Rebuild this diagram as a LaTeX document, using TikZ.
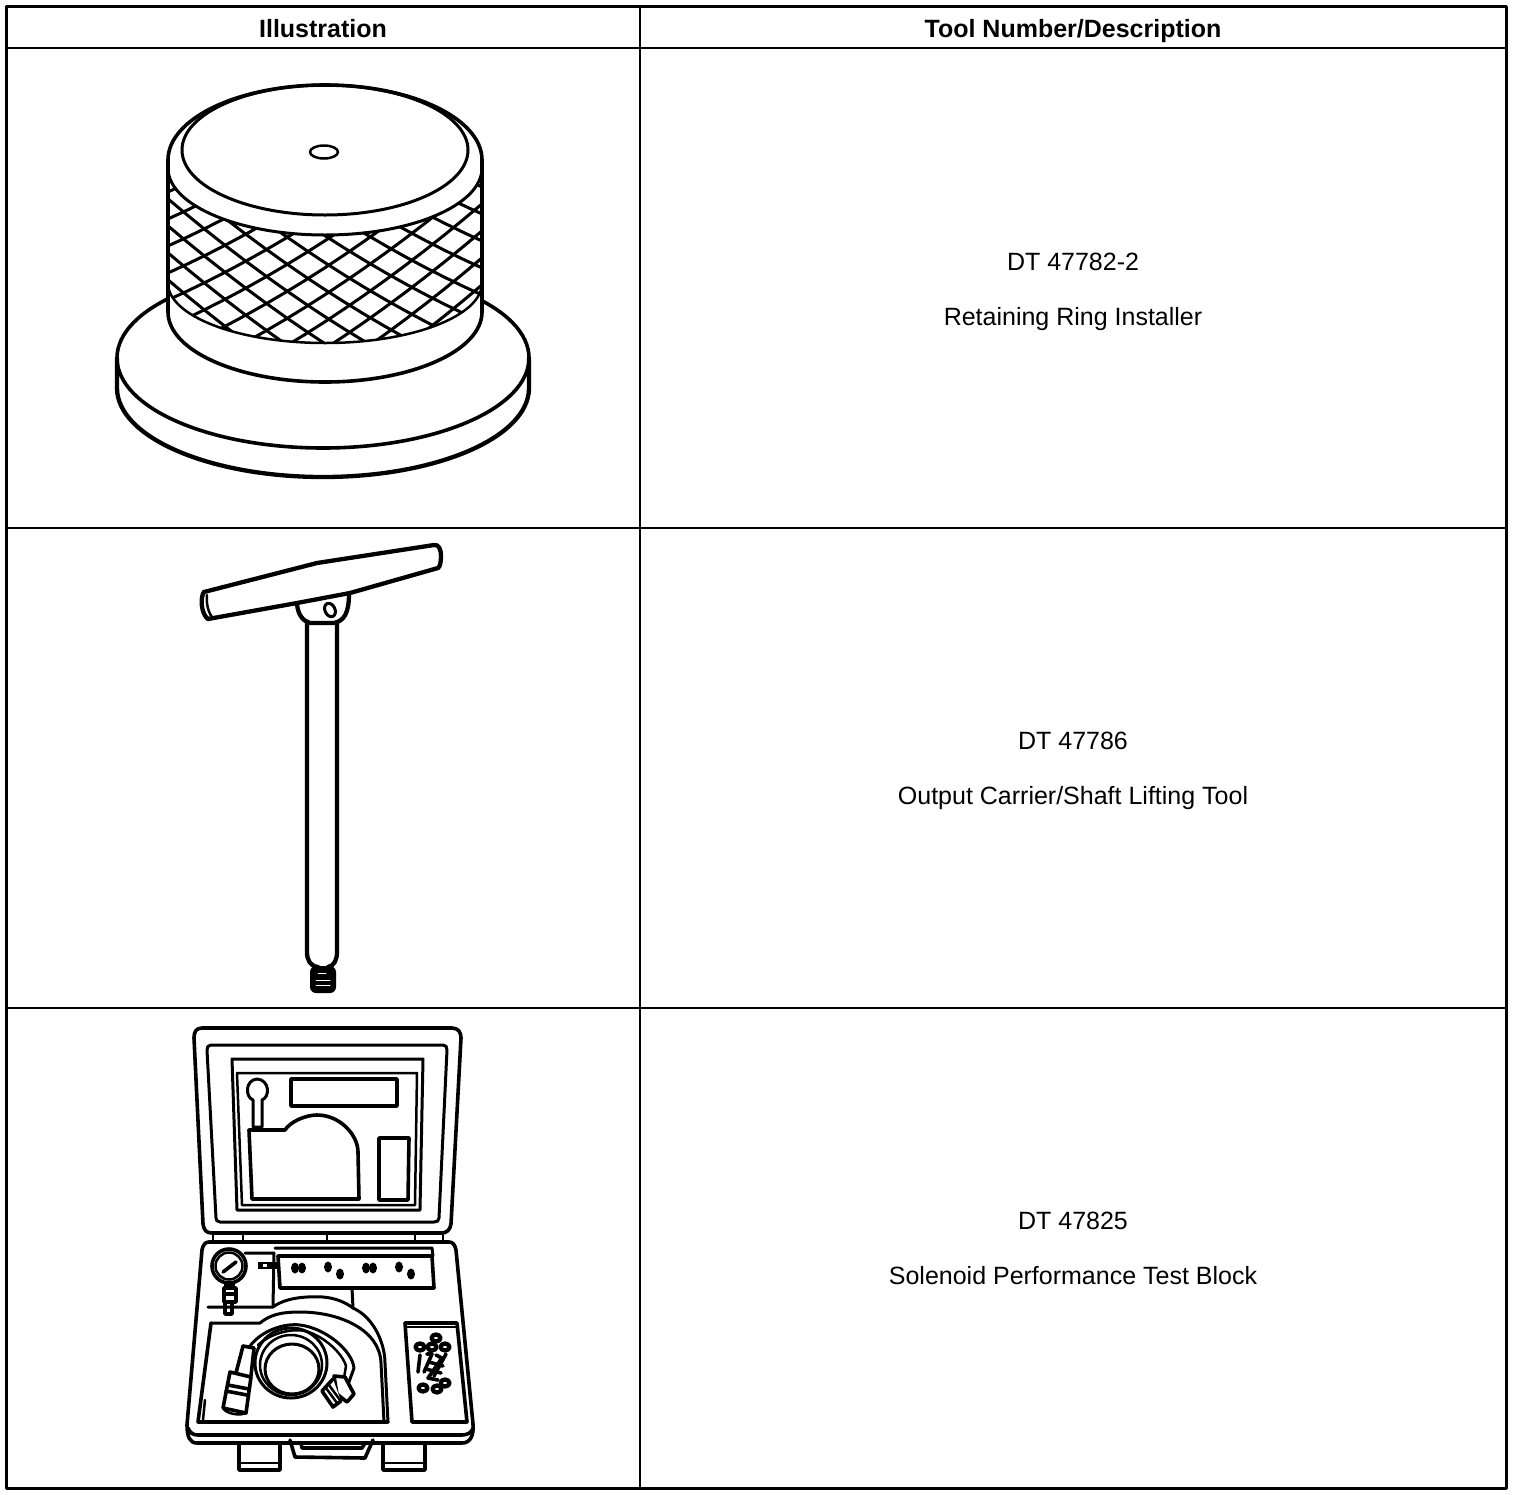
\documentclass[tikz,border=0pt]{standalone}
\usepackage{fontspec}
\setmainfont{Liberation Sans}
\begin{document}
\begin{tikzpicture}[x=1pt,y=-1pt,line join=round,line cap=round,
  grid/.style={line width=1.7pt,line cap=butt},
  frame/.style={line width=3pt,line cap=butt},
  heavy ink/.style={line width=4.3pt},
  ink/.style={line width=3.6pt},
  mid ink/.style={line width=3pt},
  thin ink/.style={line width=2.5pt},
  head/.style={font=\fontsize{25}{28}\selectfont\bfseries,inner sep=0pt,anchor=base},
  cell/.style={font=\fontsize{25}{28}\selectfont,inner sep=0pt,anchor=base},
  blob/.style={fill=black,draw=none}]
\useasboundingbox (0,0) rectangle (1520,1494);
\fill[white] (0,0) rectangle (1520,1494);
% table
\draw[frame] (6,6) rectangle (1506,1488);
\draw[grid] (640,6) -- (640,1488);
\draw[grid] (6,48) -- (1506,48);
\draw[grid] (6,528) -- (1506,528);
\draw[grid] (6,1008) -- (1506,1008);
\node[head] (h1) at (323,37) {Illustration};
\node[head] (h2) at (1073,37) {Tool Number/Description};
\node[cell] (a1) at (1073,270) {DT 47782-2};
\node[cell] (a2) at (1073,325) {Retaining Ring Installer};
\node[cell] (b1) at (1073,749.5) {DT 47786};
\node[cell] (b2) at (1073,804.5) {Output Carrier/Shaft Lifting Tool};
\node[cell] (c1) at (1073,1229) {DT 47825};
\node[cell] (c2) at (1073,1284) {Solenoid Performance Test Block};
% ---- tool 1
\draw[heavy ink] (117,358) -- (117,388) arc[start angle=180,end angle=0,x radius=206,y radius=89] -- (529,358);
\draw[ink] (323,358) ellipse[x radius=206,y radius=90];
\fill[white] (168,160) -- (168,312) arc[start angle=180,end angle=0,x radius=157,y radius=70] -- (482,160) arc[start angle=0,end angle=180,x radius=157,y radius=-75] -- cycle;
\begin{scope}
\clip (168,165) arc[start angle=180,end angle=0,x radius=157,y radius=70] -- (482,283) arc[start angle=0,end angle=180,x radius=157,y radius=60] -- cycle;
\foreach \i in {-7,...,7}{
  \draw[mid ink,line cap=butt] plot[domain=-160:160,samples=17] ({325+\x},{262.7+27*\i+0.65*\x-6.4*(\x/100)*(\x/100)});
  \draw[mid ink,line cap=butt] plot[domain=-160:160,samples=17] ({325+\x},{240.7+27*\i-0.65*\x-6.4*(\x/100)*(\x/100)});
}
\end{scope}
\draw[ink] (168,160) -- (168,312) arc[start angle=180,end angle=0,x radius=157,y radius=70] -- (482,160) arc[start angle=0,end angle=180,x radius=157,y radius=-75];
\draw[mid ink] (168,168) arc[start angle=180,end angle=0,x radius=157,y radius=67];
\draw[thin ink] (168,283) arc[start angle=180,end angle=0,x radius=157,y radius=60];
\draw[mid ink] (325,150) ellipse[x radius=143,y radius=65];
\draw[thin ink] (324,152) ellipse[x radius=14,y radius=6.5];
% ---- tool 2
\draw[heavy ink] (307,622) -- (307,952) .. controls (307,960) and (310,966) .. (318,967);
\draw[heavy ink] (337,622) -- (337,952) .. controls (337,960) and (334,966) .. (328,967);
\fill[blob,rounded corners=6pt] (310,966) rectangle (336,993);
\draw[white,line width=1pt] (318,973) -- (326,973);
\draw[white,line width=1pt] (316,980) -- (330,980);
\draw[white,line width=1pt] (316,985) -- (330,985);
\draw[heavy ink] (297,604) .. controls (298,615) and (303,621) .. (310,623) -- (334,623) .. controls (344,621) and (349,613) .. (349,594);
\draw[heavy ink] (204,592) -- (317,563) -- (434,545) .. controls (439,544) and (441,550) .. (441,556) .. controls (441,562) and (440,567) .. (438,568) -- (350,593) -- (297,603) -- (208,619);
\draw[heavy ink] (204,592) .. controls (200,597) and (201,614) .. (208,619);
\draw[thin ink] (207,595) .. controls (206,602) and (208,612) .. (212,617);
\draw[mid ink,rotate around={25:(330,610)}] (330,610) ellipse[x radius=5,y radius=7];
% ---- tool 3 lid
\draw[ink] (202,1028) -- (452,1028) .. controls (458,1028) and (461,1032) .. (461,1038) -- (451,1224) .. controls (450,1230) and (447,1233) .. (441,1233) -- (212,1233) .. controls (206,1233) and (204,1230) .. (203,1224) -- (194,1038) .. controls (194,1032) and (196,1028) .. (202,1028) -- cycle;
\draw[mid ink] (211,1045) -- (443,1045) .. controls (446,1045) and (447,1047) .. (447,1050) -- (439,1218) .. controls (439,1221) and (437,1222) .. (434,1222) -- (220,1222) .. controls (217,1222) and (216,1220) .. (216,1218) -- (207,1050) .. controls (207,1047) and (208,1045) .. (211,1045) -- cycle;
\draw[mid ink] (232,1059) -- (423,1059) -- (420,1210) -- (237,1210) -- cycle;
\draw[thin ink] (237,1073) -- (417,1073) -- (415,1205) -- (242,1205) -- cycle;
\draw[mid ink] (253,1100) .. controls (245,1097) and (245,1080) .. (257,1079) .. controls (270,1080) and (270,1097) .. (262,1100) -- (262,1127) -- (253,1127) -- cycle;
\draw[ink] (291,1079) rectangle (397,1106);
\draw[ink] (249,1130) -- (285,1130) .. controls (290,1122) and (305,1115) .. (317,1115) .. controls (340,1115) and (358,1135) .. (358,1152) -- (359,1199) -- (252,1199) -- cycle;
\draw[ink] (379,1138) -- (409,1138) -- (408,1200) -- (379,1200) -- cycle;
\foreach \xx in {213,243,327,415,443}{\draw[thin ink] (\xx,1233) -- (\xx,1241);}
% ---- tool 3 case
\draw[ink] (209,1242) -- (449,1242) .. controls (453,1242) and (455,1245) .. (456,1250) -- (473,1424) .. controls (474,1436) and (470,1443) .. (462,1443) -- (197,1443) .. controls (190,1443) and (187,1437) .. (187,1425) -- (202,1250) .. controls (203,1245) and (205,1242) .. (209,1242) -- cycle;
\draw[ink] (188,1428) .. controls (190,1433) and (193,1435) .. (198,1435) -- (462,1435) .. controls (468,1435) and (472,1432) .. (473,1428);
% case interior
\draw[mid ink] (275,1248) -- (432,1248) -- (433,1256);
\draw[mid ink] (245,1253) -- (274,1253) -- (273,1307) -- (208,1307);
\draw[ink] (278,1256) -- (432,1256) -- (434,1288) -- (280,1288) -- cycle;
\draw[mid ink] (273,1307) .. controls (285,1298) and (305,1296) .. (323,1297) .. controls (335,1298) and (345,1302) .. (353,1308) -- (352,1288);
\draw[mid ink] (353,1308) .. controls (375,1318) and (385,1345) .. (385,1363) -- (388,1422);
\draw[mid ink] (211,1323) -- (260,1323) .. controls (270,1315) and (280,1312) .. (300,1312) .. controls (340,1312) and (380,1330) .. (381,1363) -- (384,1422);
\draw[ink] (211,1323) -- (198,1422) -- (388,1422);
\draw[thin ink] (203,1420) -- (205,1400);
% pocket
\draw[ink] (405,1323) -- (457,1323) -- (467,1422) -- (412,1422) -- cycle;
\draw[thin ink] (407,1327) -- (456,1327);
% gauge
\fill[white] (229,1266) circle[radius=17];
\draw[ink] (229,1266) circle[radius=17];
\draw[thin ink] (229,1266) circle[radius=13.5];
\draw[ink] (223,1272) -- (236,1262);
\fill (224,1283) rectangle (235,1288);
\draw[ink] (224,1288) rectangle (236,1302);
\fill (224,1292) rectangle (236,1296);
\draw[ink] (225,1302) rectangle (232,1314);
\draw[thin ink] (225,1307) -- (232,1307);
\fill (258,1262) rectangle (277,1269);
\fill[white] (263,1264) rectangle (267,1267);
% panel holes
\foreach \hx/\hy in {295/1268,302/1268,328/1267,340/1274,366/1268,373/1268,399/1267,411/1274}{
  \fill[blob] (\hx,\hy) ellipse[x radius=4,y radius=5.5];
}
% cable coils
\draw[mid ink] (292,1369) ellipse[x radius=27,y radius=25];
\draw[thin ink] (291,1365) ellipse[x radius=31,y radius=30];
\draw[mid ink] (291,1363) ellipse[x radius=36,y radius=35];
\draw[mid ink] (250,1346) .. controls (262,1330) and (285,1323) .. (300,1325) .. controls (325,1328) and (352,1350) .. (354,1368) -- (349,1382);
\draw[thin ink] (258,1345) .. controls (270,1334) and (290,1328) .. (305,1331) .. controls (322,1335) and (342,1352) .. (346,1366) -- (344,1378);
% left connector
\fill[white] (243,1346) -- (254,1348) -- (251,1377) -- (230,1372) -- cycle;
\draw[ink] (243,1346) -- (254,1348) -- (251,1376);
\draw[ink] (243,1346) -- (236,1373);
\fill[white] (230,1372) -- (251,1377) -- (246,1413) -- (223,1408) -- cycle;
\draw[ink] (230,1372) -- (251,1377) -- (246,1413) -- (223,1408) -- cycle;
\draw[ink] (228,1385) -- (249,1389);
\draw[ink] (226,1391) -- (247,1395);
\draw[thin ink] (223,1408) .. controls (226,1414) and (240,1416) .. (246,1413);
% right connector
\fill[white] (334,1376) -- (345,1377) -- (354,1394) -- (347,1402) -- (337,1394) -- cycle;
\draw[ink] (334,1376) -- (345,1377) -- (354,1394) -- (347,1402) -- (337,1394) -- cycle;
\fill[white] (333,1379) -- (322,1391) -- (333,1407) -- (341,1401) -- cycle;
\draw[ink] (333,1379) -- (322,1391) -- (333,1407) -- (341,1401);
\draw[thin ink] (326,1388) -- (337,1403);
\draw[thin ink] (329,1385) -- (340,1400);
% pocket contents
\foreach \rx/\ry in {436/1338,420/1347,432/1347,445/1347,423/1388,437/1389,445/1383}{
  \draw[heavy ink] (\rx,\ry) ellipse[x radius=4.5,y radius=3.5];
}
\draw[ink] (420,1355) -- (418,1372);
\draw[ink] (427,1354) -- (432,1354) -- (424,1372);
\draw[ink] (436,1355) -- (442,1358) -- (428,1378) -- (438,1380);
\draw[ink] (446,1354) -- (434,1376);
\draw[ink] (429,1362) -- (443,1366);
\draw[ink] (426,1369) -- (441,1373);
% handle and latches
\draw[ink] (290,1440) -- (295,1457) -- (365,1458) -- (373,1440);
\draw[ink] (301,1443) -- (302,1448) -- (362,1448) -- (365,1443);
\draw[ink] (239,1443) rectangle (280,1470);
\draw[thin ink] (239,1463) -- (280,1463);
\draw[ink] (383,1443) rectangle (425,1470);
\draw[thin ink] (383,1463) -- (425,1463);
\end{tikzpicture}
\end{document}
